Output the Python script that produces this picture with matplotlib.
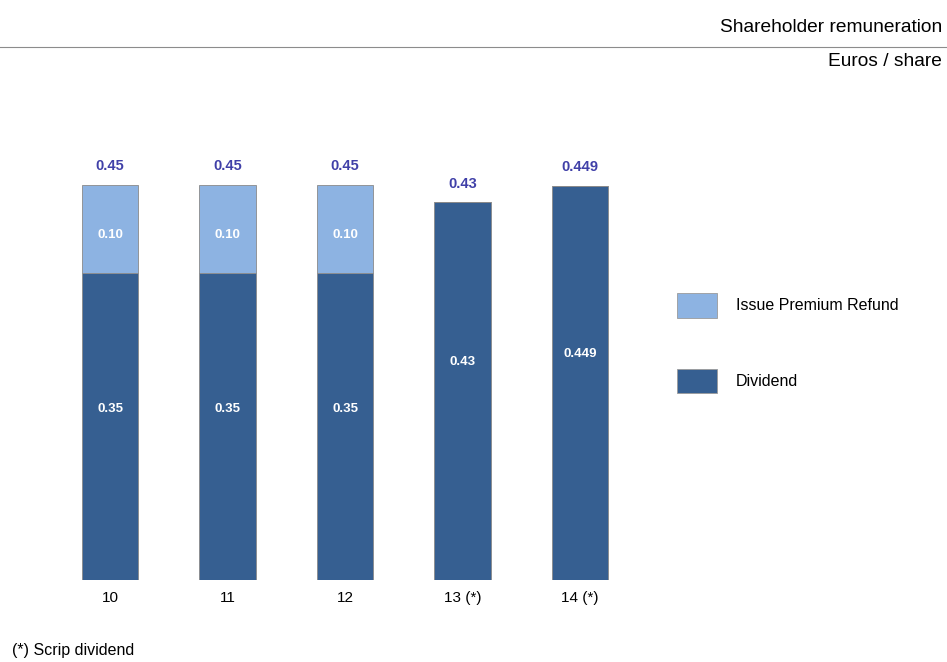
import matplotlib.pyplot as plt
from matplotlib.lines import Line2D
from matplotlib.patches import Patch

years = ['10', '11', '12', '13 (*)', '14 (*)']
dividend = [0.35, 0.35, 0.35, 0.43, 0.449]
premium = [0.10, 0.10, 0.10, 0.0, 0.0]

c_div = '#365f91'
c_prem = '#8db3e2'
c_total = '#4040a8'
narrow = ['Liberation Sans Narrow', 'Liberation Sans', 'DejaVu Sans']
plt.rcParams['font.family'] = ['Liberation Sans', 'DejaVu Sans']


def fmt(v):
    s = ('%.3f' % v).rstrip('0')
    if len(s.split('.')[1]) < 2:
        s = '%.2f' % v
    return s


fig = plt.figure(figsize=(9.47, 6.62), dpi=100)
ax = fig.add_axes([51.25 / 947, 82 / 662, 587.5 / 947, 439 / 662])

x = list(range(len(years)))
w = 0.477
ax.bar(x, dividend, width=w, color=c_div, edgecolor='#8a8a8a', linewidth=0.6)
ax.bar(x, premium, width=w, bottom=dividend, color=c_prem, edgecolor='#8a8a8a', linewidth=0.6)

for i in x:
    d = dividend[i]
    p = premium[i]
    # inner labels sit a bit above the middle of each segment
    lift = 0.02 if p > 0 else 0.033
    ax.text(i, d / 2 + lift, fmt(d), ha='center', va='center', color='white',
            fontsize=9.5, fontweight='bold')
    if p > 0:
        ax.text(i, d + p * 0.43, fmt(p), ha='center', va='center', color='white',
                fontsize=9.5, fontweight='bold')
    ax.annotate(fmt(d + p), (i, d + p), xytext=(0, 13.5), textcoords='offset points',
                ha='center', va='center', color=c_total, fontsize=10.5, fontweight='bold')

ax.set_xlim(-0.5, 4.5)
ax.set_ylim(0, 0.5)
ax.set_xticks(x)
ax.set_xticklabels(years, family=narrow, fontsize=11)
ax.tick_params(axis='x', length=0, pad=8)
ax.set_yticks([])
for s in ax.spines.values():
    s.set_visible(False)

handles = [Patch(facecolor=c_prem, edgecolor='#9a9a9a', linewidth=0.6),
           Patch(facecolor=c_div, edgecolor='#9a9a9a', linewidth=0.6)]
fig.legend(handles, ['Issue Premium Refund', 'Dividend'],
           loc='upper left', bbox_to_anchor=(677 / 947, 1 - 293 / 662),
           frameon=False, handlelength=2.5, handleheight=2.0,
           labelspacing=3.2, handletextpad=1.2, borderpad=0, borderaxespad=0,
           prop={'family': narrow, 'size': 11.5})

fig.add_artist(Line2D([0, 1], [1 - 47 / 662, 1 - 47 / 662], color='#8c8c8c', linewidth=0.8))
fig.text(942 / 947, 1 - 28 / 662, 'Shareholder remuneration', ha='right', va='center',
         family=narrow, fontsize=13.8)
fig.text(942 / 947, 1 - 62 / 662, 'Euros / share', ha='right', va='center',
         family=narrow, fontsize=13.8)
fig.text(12 / 947, 1 - 651 / 662, '(*) Scrip dividend', ha='left', va='center',
         family=narrow, fontsize=11.5)

fig.savefig('out.png', dpi=100)
